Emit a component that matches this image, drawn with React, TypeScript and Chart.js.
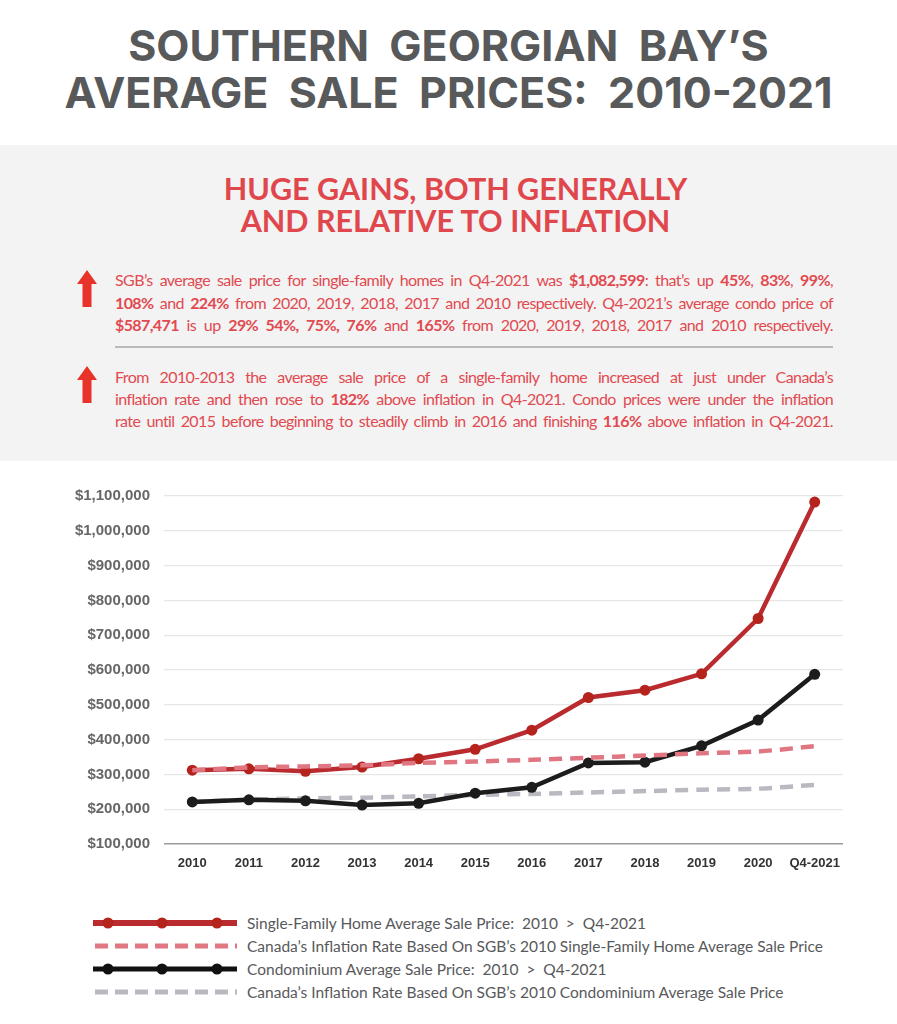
import React, { useEffect, useRef } from "react";
import { Chart, registerables } from "chart.js";

Chart.register(...registerables);

// ---- data ----
const categories = ["2010", "2011", "2012", "2013", "2014", "2015", "2016", "2017", "2018", "2019", "2020", "Q4-2021"];
const singleFamily = [312000, 316000, 309000, 321000, 345000, 372000, 427000, 521000, 542000, 589000, 748000, 1082599];
const sfInflation = [312000, 320000, 323000, 326000, 333000, 337000, 342000, 348000, 354000, 361000, 366000, 381000];
const condo = [221000, 227000, 224000, 212000, 217000, 246000, 263000, 333000, 335000, 382000, 456000, 587471];
const condoInflation = [221000, 227000, 231000, 233000, 237000, 241000, 244000, 248000, 252000, 256000, 259000, 270000];
const yMin = 100000;
const yMax = 1100000;
const yStep = 100000;

const seriesLabels = [
  "Single-Family Home Average Sale Price:  2010  >  Q4-2021",
  "Canada\u2019s Inflation Rate Based On SGB\u2019s 2010 Single-Family Home Average Sale Price",
  "Condominium Average Sale Price:  2010  >  Q4-2021",
  "Canada\u2019s Inflation Rate Based On SGB\u2019s 2010 Condominium Average Sale Price",
];

const titleLines = ["SOUTHERN  GEORGIAN  BAY\u2019S", "AVERAGE  SALE  PRICES:  2010-2021"];
const subtitleLines = ["HUGE GAINS, BOTH GENERALLY", "AND RELATIVE TO INFLATION"];

// segments: [text, bold]
type Seg = [string, boolean];
const para1: Seg[][] = [
  [["SGB\u2019s average sale price for single-family homes in Q4-2021 was ", false], ["$1,082,599", true], [": that\u2019s up ", false], ["45%", true], [", ", false], ["83%", true], [", ", false], ["99%", true], [",", false]],
  [["108%", true], [" and ", false], ["224%", true], [" from  2020, 2019, 2018, 2017 and 2010 respectively. Q4-2021\u2019s average condo price of", false]],
  [["$587,471", true], [" is up ", false], ["29% 54%, 75%, 76%", true], [" and ", false], ["165%", true], [" from 2020, 2019, 2018, 2017 and 2010 respectively.", false]],
];
const para2: Seg[][] = [
  [["From 2010-2013 the average sale price of a single-family home increased at just under Canada\u2019s", false]],
  [["inflation rate and then rose to ", false], ["182%", true], [" above inflation in Q4-2021. Condo prices were under the inflation", false]],
  [["rate until 2015 before beginning to steadily climb in 2016 and finishing ", false], ["116%", true], [" above inflation in Q4-2021.", false]],
];

const RED = "#b92b2e";
const PINK = "#e07682";
const BLACK = "#1c1c1c";
const GREY = "#b9bac1";
const TEXT_RED = "#e14a50";

function Arrow({ top }: { top: number }) {
  return (
    <svg style={{ position: "absolute", left: 76, top, width: 22, height: 38 }} viewBox="0 0 22 38">
      <polygon points="11,0 21,14 15.5,14 15.5,37 6.5,37 6.5,14 1,14" fill="#e8332a" />
    </svg>
  );
}

function TextLine({ segs, top }: { segs: Seg[]; top: number }) {
  return (
    <div
      style={{
        position: "absolute",
        left: 115,
        top,
        width: 718,
        fontFamily: "Lato, sans-serif",
        fontSize: 16,
        lineHeight: "20px",
        color: TEXT_RED,
        textAlign: "justify",
        textAlignLast: "justify" as any,
        whiteSpace: "nowrap",
        letterSpacing: "-0.6px",
      }}
    >
      {segs.map((s, i) => (
        <span key={i} style={{ fontWeight: s[1] ? 700 : 400 }}>{s[0]}</span>
      ))}
    </div>
  );
}

function LegendSymbol({ idx, top }: { idx: number; top: number }) {
  const w = 144;
  if (idx === 0 || idx === 2) {
    const c = idx === 0 ? RED : "#111";
    return (
      <svg style={{ position: "absolute", left: 93, top: top - 8, width: w, height: 16 }}>
        <line x1={0} y1={8} x2={w} y2={8} stroke={c} strokeWidth={idx === 0 ? 6 : 5} />
        {[15, 69, 124].map((x) => (
          <circle key={x} cx={x} cy={8} r={5.5} fill={idx === 0 ? "#b5231d" : "#111"} />
        ))}
      </svg>
    );
  }
  const c = idx === 1 ? PINK : GREY;
  return (
    <svg style={{ position: "absolute", left: 93, top: top - 8, width: w, height: 16 }}>
      <line x1={2} y1={8} x2={w} y2={8} stroke={c} strokeWidth={5} strokeDasharray="13 7" />
    </svg>
  );
}

export default function App() {
  const canvasRef = useRef<HTMLCanvasElement | null>(null);

  useEffect(() => {
    const canvas = canvasRef.current;
    if (!canvas) return;
    const chart = new Chart(canvas, {
      type: "line",
      data: {
        labels: categories,
        datasets: [
          {
            label: seriesLabels[0],
            data: singleFamily,
            borderColor: RED,
            backgroundColor: "#b5231d",
            borderWidth: 4.5,
            pointRadius: 5.5,
            pointBorderWidth: 0,
            pointBackgroundColor: "#b5231d",
            tension: 0,
            order: 1,
          },
          {
            label: seriesLabels[1],
            data: sfInflation,
            borderColor: PINK,
            borderWidth: 4.5,
            borderDash: [13, 8],
            pointRadius: 0,
            tension: 0.3,
            order: 0,
          },
          {
            label: seriesLabels[2],
            data: condo,
            borderColor: BLACK,
            backgroundColor: BLACK,
            borderWidth: 4.5,
            pointRadius: 5.5,
            pointBorderWidth: 0,
            pointBackgroundColor: BLACK,
            tension: 0,
            order: 2,
          },
          {
            label: seriesLabels[3],
            data: condoInflation,
            borderColor: GREY,
            borderWidth: 4.5,
            borderDash: [13, 8],
            pointRadius: 0,
            tension: 0.3,
            order: 3,
          },
        ],
      },
      options: {
        responsive: false,
        animation: false,
        layout: { padding: { top: 0, right: 54, bottom: 0, left: 0 } },
        plugins: { legend: { display: false }, tooltip: { enabled: false } },
        scales: {
          x: {
            offset: true,
            grid: { display: false, drawTicks: false },
            border: { display: false },
            ticks: {
              padding: 12,
              color: "#333",
              font: { family: "'Liberation Sans', Arial, sans-serif", size: 13, weight: "bold" },
              maxRotation: 0,
              autoSkip: false,
            },
            afterFit: (s: any) => {
              s.height = 36;
            },
          },
          y: {
            min: yMin,
            max: yMax,
            border: { display: false },
            grid: {
              drawTicks: false,
              color: (ctx: any) => (ctx.tick && ctx.tick.value === yMin ? "#9a9a9a" : "#e6e6e6"),
              lineWidth: (ctx: any) => (ctx.tick && ctx.tick.value === yMin ? 1.6 : 1.3),
            },
            ticks: {
              stepSize: yStep,
              padding: 14,
              color: "#666",
              font: { family: "'Liberation Sans', Arial, sans-serif", size: 15, weight: "bold" },
              callback: (v: any) => "$" + Number(v).toLocaleString("en-US"),
            },
            afterFit: (s: any) => {
              s.width = 164;
            },
          },
        },
      },
    } as any);
    return () => chart.destroy();
  }, []);

  const legendTops = [923, 946, 969, 992];

  return (
    <div style={{ position: "absolute", left: 0, top: 0, width: 897, height: 1024, background: "#fff", overflow: "hidden" }}>
      {titleLines.map((t, i) => (
        <div
          key={i}
          style={{
            position: "absolute",
            left: 0,
            top: 20 + i * 47,
            width: 897,
            textAlign: "center",
            fontFamily: "Inter, 'Open Sans', sans-serif",
            fontWeight: 700,
            fontSize: 43,
            lineHeight: "50px",
            color: "#58595b",
            whiteSpace: "pre",
          }}
        >
          {t}
        </div>
      ))}
      <div style={{ position: "absolute", left: 0, top: 145, width: 897, height: 316, background: "#f3f3f3" }} />
      {subtitleLines.map((t, i) => (
        <div
          key={i}
          style={{
            position: "absolute",
            left: 7,
            top: 170 + i * 32,
            width: 897,
            textAlign: "center",
            fontFamily: "Lato, sans-serif",
            fontWeight: 700,
            fontSize: 30.5,
            lineHeight: "36px",
            color: "#e0474d",
          }}
        >
          {t}
        </div>
      ))}
      <Arrow top={270} />
      {para1.map((l, i) => (
        <TextLine key={i} segs={l} top={270 + i * 22.5} />
      ))}
      <div style={{ position: "absolute", left: 115, top: 346, width: 718, height: 1.5, background: "#b9b9b9" }} />
      <Arrow top={366} />
      {para2.map((l, i) => (
        <TextLine key={i} segs={l} top={367 + i * 22} />
      ))}
      <div style={{ position: "absolute", left: 0, top: 473, width: 897, height: 407 }}>
        <canvas ref={canvasRef} width={897} height={407} style={{ display: "block", width: 897, height: 407 }} />
      </div>
      {seriesLabels.map((t, i) => (
        <React.Fragment key={i}>
          <LegendSymbol idx={i} top={legendTops[i]} />
          <div
            style={{
              position: "absolute",
              left: 247,
              top: legendTops[i] - 11,
              fontFamily: "Lato, sans-serif",
              fontSize: 15.5,
              lineHeight: "22px",
              color: "#58595b",
              whiteSpace: "pre",
            }}
          >
            {t}
          </div>
        </React.Fragment>
      ))}
    </div>
  );
}
